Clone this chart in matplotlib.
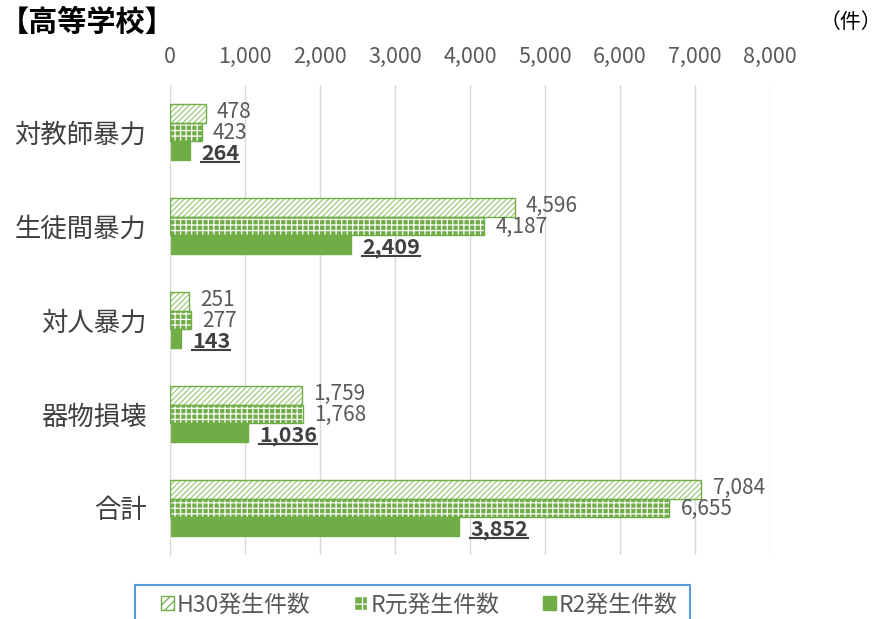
import matplotlib.pyplot as plt
from matplotlib.patches import Patch, Rectangle
from matplotlib.lines import Line2D
import numpy as np

plt.rcParams['font.family'] = ['Noto Sans CJK JP', 'DejaVu Sans']
plt.rcParams['hatch.linewidth'] = 0.9

categories = ["対教師暴力", "生徒間暴力", "対人暴力", "器物損壊", "合計"]
h30 = [478, 4596, 251, 1759, 7084]
r1 = [423, 4187, 277, 1768, 6655]
r2 = [264, 2409, 143, 1036, 3852]
series_names = ["H30発生件数", "R元発生件数", "R2発生件数"]
xticks = [0, 1000, 2000, 3000, 4000, 5000, 6000, 7000, 8000]

green = "#70AD47"
light = "#9CCB7C"
gray_txt = "#595959"

fig = plt.figure(figsize=(8.84, 6.19), dpi=100)
ax = fig.add_axes([170 / 884, 1 - 555 / 619, 600 / 884, 470 / 619])

y = np.arange(len(categories))
bh = 0.2
# H30: diagonal hatch on white
ax.barh(y - bh, h30, height=bh, color="white", edgecolor=light, hatch="//////", linewidth=0, zorder=2)
ax.barh(y - bh, h30, height=bh, color="none", edgecolor=green, linewidth=1, zorder=3)
# R元: green with white grid dots
ax.barh(y, r1, height=bh, color=green, edgecolor="white", hatch="+++", linewidth=0, zorder=2)
ax.barh(y, r1, height=bh, color="none", edgecolor=green, linewidth=1, zorder=3)
# R2: solid
ax.barh(y + bh, r2, height=bh, color=green, edgecolor=green, linewidth=1, zorder=2)

ax.set_xlim(0, 8000)
ax.set_ylim(len(categories) - 0.5, -0.5)
ax.set_xticks(xticks)
ax.set_xticklabels(["{:,}".format(v) for v in xticks], fontsize=15.5, color=gray_txt)
ax.xaxis.tick_top()
ax.tick_params(axis="x", length=0, pad=12)
ax.set_yticks(y)
ax.set_yticklabels(categories, fontsize=19, color="#404040")
ax.tick_params(axis="y", length=0, pad=17)
ax.grid(axis="x", color="#D9D9D9", linewidth=1, zorder=0)
ax.set_axisbelow(True)
for s in ["top", "right", "bottom"]:
    ax.spines[s].set_visible(False)
ax.spines["left"].set_color("#D9D9D9")

off = 150
for i in range(len(categories)):
    ax.text(h30[i] + off, y[i] - bh - 0.01, "{:,}".format(h30[i]), va="center", ha="left", fontsize=15, color=gray_txt)
    ax.text(r1[i] + off, y[i] + 0.01, "{:,}".format(r1[i]), va="center", ha="left", fontsize=15, color=gray_txt)

r2_texts = []
for i in range(len(categories)):
    t = ax.text(r2[i] + off, y[i] + bh + 0.03, "{:,}".format(r2[i]), va="center", ha="left", fontsize=15.5,
                fontweight="bold", color="#404040")
    r2_texts.append(t)

fig.text(0 / 884, 1 - 22 / 619, "【高等学校】", fontsize=21, fontweight="bold", va="center", ha="left")
fig.text(882 / 884, 1 - 22 / 619, "（件）", fontsize=15, va="center", ha="right")

# legend box (cut off at bottom like the original)
fig.add_artist(Rectangle((135 / 884, -0.05), 555 / 884, 0.05 + 1 - 585 / 619, transform=fig.transFigure,
                         facecolor="none", edgecolor="#5B9BD5", linewidth=1.5))
handles = [
    Patch(facecolor="white", edgecolor=green, hatch="////"),
    Patch(facecolor=green, edgecolor="white", hatch="++"),
    Patch(facecolor=green, edgecolor=green),
]
fig.legend(handles, series_names, loc="center left", bbox_to_anchor=(161 / 884, 1 - 605 / 619),
           ncol=3, fontsize=16.5, frameon=False, handlelength=0.55, handleheight=0.55,
           handletextpad=0.15, columnspacing=1.9, borderpad=0, borderaxespad=0,
           labelcolor=gray_txt)

# underline R2 labels
fig.canvas.draw()
inv = fig.transFigure.inverted()
for t in r2_texts:
    bb = t.get_window_extent()
    (x0, y0), (x1, y1) = inv.transform([[bb.x0, bb.y0], [bb.x1, bb.y1]])
    fig.add_artist(Line2D([x0, x1], [y0 + 0.003, y0 + 0.003], color="#404040", linewidth=1.5, transform=fig.transFigure))

fig.savefig("out.png", dpi=100)
